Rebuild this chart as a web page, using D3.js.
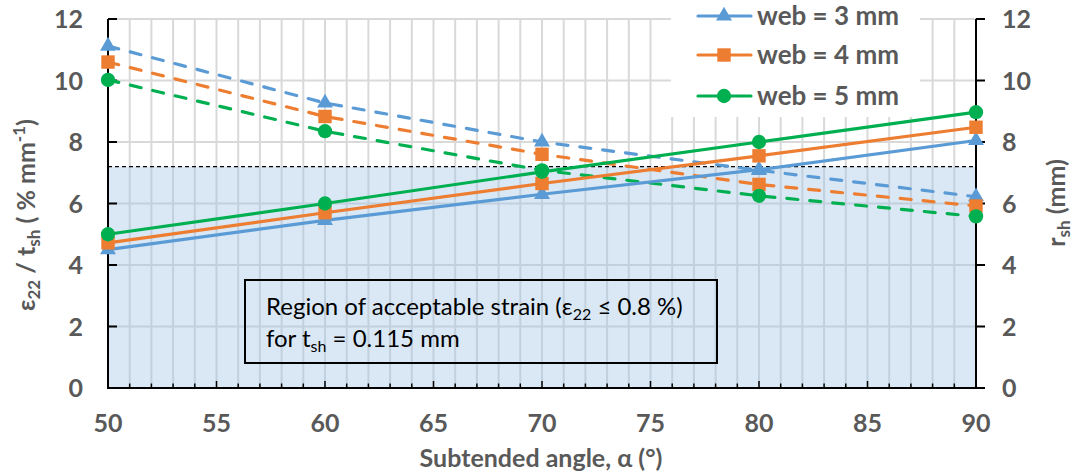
<!DOCTYPE html>
<html>
<head>
<meta charset="utf-8">
<script src="https://cdn.jsdelivr.net/npm/d3@7"></script>
<style>
  html, body { margin: 0; padding: 0; background: #fff; }
  svg { display: block; }
  text { font-family: Lato, "Open Sans", sans-serif; }
</style>
</head>
<body>
<svg id="chart" width="1073" height="473"></svg>
<script>
// ---- data ----
const angles = [50, 60, 70, 80, 90];
const seriesNames = ["web = 3 mm", "web = 4 mm", "web = 5 mm"];
const seriesColors = ["#5B9BD5", "#ED7D31", "#00B050"];
const seriesMarkers = ["triangle", "square", "circle"];
// r_sh (mm), solid lines, right axis
const rsh3 = [4.5, 5.45, 6.3, 7.1, 8.05];
const rsh4 = [4.72, 5.7, 6.65, 7.55, 8.48];
const rsh5 = [5.0, 6.0, 7.03, 8.0, 8.97];
// eps22 / t_sh (% mm^-1), dashed lines, left axis
const eps3 = [11.12, 9.27, 8.0, 7.08, 6.22];
const eps4 = [10.6, 8.83, 7.6, 6.62, 5.92];
const eps5 = [10.02, 8.35, 7.08, 6.25, 5.58];
const acceptLimit = 7.2;
const xTicks = [50, 55, 60, 65, 70, 75, 80, 85, 90];
const yTicks = [0, 2, 4, 6, 8, 10, 12];

const svg = d3.select("#chart");
const X0 = 108, X1 = 976, Y0 = 388, Y1 = 19;
const x = d3.scaleLinear().domain([50, 90]).range([X0, X1]);
const yL = d3.scaleLinear().domain([0, 12]).range([Y0, Y1]);
const yR = d3.scaleLinear().domain([0, 12]).range([Y0, Y1]);
const gray = "#595959";
const FS = 25;

// gridlines
const grid = svg.append("g");
grid.selectAll("line.v").data(d3.range(51, 90, 1)).join("line")
  .attr("x1", d => x(d)).attr("x2", d => x(d)).attr("y1", Y1).attr("y2", Y0)
  .attr("stroke", "#D9D9D9").attr("stroke-width", 2);
grid.selectAll("line.h").data(yTicks.filter(d => d > 0)).join("line")
  .attr("x1", X0).attr("x2", X1).attr("y1", d => yL(d)).attr("y2", d => yL(d))
  .attr("stroke", "#D9D9D9").attr("stroke-width", 2);

// acceptable region
svg.append("rect")
  .attr("x", X0).attr("y", yL(acceptLimit))
  .attr("width", X1 - X0).attr("height", yL(0) - yL(acceptLimit))
  .attr("fill", "#9DC3E6").attr("fill-opacity", 0.38);
svg.append("line")
  .attr("x1", X0).attr("x2", X1).attr("y1", yL(acceptLimit)).attr("y2", yL(acceptLimit))
  .attr("stroke", "#000").attr("stroke-width", 1.2).attr("stroke-dasharray", "4,3");

// annotation box
const box = svg.append("g");
box.append("rect").attr("x", 245).attr("y", 280).attr("width", 472).attr("height", 83)
  .attr("fill", "none").attr("stroke", "#000").attr("stroke-width", 2);
const t1 = box.append("text").attr("x", 266).attr("y", 315)
  .attr("font-size", 24).attr("fill", "#000");
t1.append("tspan").text("Region of acceptable strain (ε");
t1.append("tspan").attr("font-size", 16).attr("dy", 5).text("22");
t1.append("tspan").attr("dy", -5).text(" ≤ 0.8 %)");
const t2 = box.append("text").attr("x", 266).attr("y", 347)
  .attr("font-size", 24).attr("fill", "#000");
t2.append("tspan").text("for t");
t2.append("tspan").attr("font-size", 16).attr("dy", 5).text("sh");
t2.append("tspan").attr("dy", -5).text(" = 0.115 mm");

// axes lines
svg.append("line").attr("x1", X0).attr("x2", X0).attr("y1", Y1).attr("y2", Y0)
  .attr("stroke", "#000").attr("stroke-width", 2);
svg.append("line").attr("x1", X1).attr("x2", X1).attr("y1", Y1).attr("y2", Y0)
  .attr("stroke", "#000").attr("stroke-width", 2);
svg.append("line").attr("x1", X0 - 1).attr("x2", X1 + 9).attr("y1", Y0).attr("y2", Y0)
  .attr("stroke", "#000").attr("stroke-width", 2);

// left axis ticks (inside)
svg.selectAll("line.lt").data(yTicks).join("line")
  .attr("x1", X0).attr("x2", X0 + 9).attr("y1", d => yL(d)).attr("y2", d => yL(d))
  .attr("stroke", "#000").attr("stroke-width", 2);
// right axis ticks (outside)
svg.selectAll("line.rt").data(yTicks).join("line")
  .attr("x1", X1).attr("x2", X1 + 9).attr("y1", d => yR(d)).attr("y2", d => yR(d))
  .attr("stroke", "#000").attr("stroke-width", 2);
// bottom minor/major ticks (inside)
svg.selectAll("line.bt").data(d3.range(50, 91, 1)).join("line")
  .attr("x1", d => x(d)).attr("x2", d => x(d))
  .attr("y1", Y0).attr("y2", d => Y0 - (d % 5 === 0 ? 7 : 4.5))
  .attr("stroke", "#000").attr("stroke-width", 1.5);

// tick labels
svg.selectAll("text.yl").data(yTicks).join("text")
  .attr("x", 83).attr("y", d => yL(d)).attr("dy", "0.36em")
  .attr("text-anchor", "end").attr("font-size", FS).attr("font-weight", "bold")
  .attr("fill", gray).text(d => d);
svg.selectAll("text.yr").data(yTicks).join("text")
  .attr("x", 1002).attr("y", d => yR(d)).attr("dy", "0.36em")
  .attr("text-anchor", "start").attr("font-size", FS).attr("font-weight", "bold")
  .attr("fill", gray).text(d => d);
svg.selectAll("text.xl").data(xTicks).join("text")
  .attr("x", d => x(d)).attr("y", 423).attr("dy", "0.36em")
  .attr("text-anchor", "middle").attr("font-size", FS).attr("font-weight", "bold")
  .attr("fill", gray).text(d => d);

// axis titles
svg.append("text").attr("x", 541).attr("y", 467).attr("text-anchor", "middle")
  .attr("font-size", FS).attr("font-weight", "bold").attr("fill", gray)
  .text("Subtended angle, α (°)");
const lt = svg.append("text").attr("transform", "translate(35,215) rotate(-90)")
  .attr("text-anchor", "middle").attr("font-size", FS).attr("font-weight", "bold").attr("fill", gray);
lt.append("tspan").text("ε");
lt.append("tspan").attr("font-size", 17).attr("dy", 5).text("22");
lt.append("tspan").attr("dy", -5).text(" / t");
lt.append("tspan").attr("font-size", 17).attr("dy", 5).text("sh");
lt.append("tspan").attr("dy", -5).text(" ( % mm");
lt.append("tspan").attr("font-size", 17).attr("dy", -10).text("-1");
lt.append("tspan").attr("dy", 10).text(")");
const rt = svg.append("text").attr("transform", "translate(1065,203) rotate(-90)")
  .attr("text-anchor", "middle").attr("font-size", FS).attr("font-weight", "bold").attr("fill", gray);
rt.append("tspan").text("r");
rt.append("tspan").attr("font-size", 17).attr("dy", 5).text("sh");
rt.append("tspan").attr("dy", -5).text(" (mm)");

// series
const symType = { triangle: d3.symbolTriangle, square: d3.symbolSquare, circle: d3.symbolCircle };
const symSize = { triangle: 110, square: 180, circle: 160 };
const rshData = [rsh3, rsh4, rsh5];
const epsData = [eps3, eps4, eps5];

function drawSeries(vals, yScale, i, dashed) {
  const pts = angles.map((a, k) => [a, vals[k]]);
  const line = d3.line().x(d => x(d[0])).y(d => yScale(d[1]));
  svg.append("path").attr("d", line(pts)).attr("fill", "none")
    .attr("stroke", seriesColors[i]).attr("stroke-width", 3.2)
    .attr("stroke-linecap", "round")
    .attr("stroke-dasharray", dashed ? "11,12" : null);
  svg.append("g").selectAll("path").data(pts).join("path")
    .attr("transform", d => `translate(${x(d[0])},${yScale(d[1])})`)
    .attr("d", d3.symbol().type(symType[seriesMarkers[i]]).size(symSize[seriesMarkers[i]]))
    .attr("fill", seriesColors[i]);
}
for (let i = 0; i < 3; i++) drawSeries(epsData[i], yL, i, true);
for (let i = 0; i < 3; i++) drawSeries(rshData[i], yR, i, false);

// legend
const lg = svg.append("g");
lg.append("rect").attr("x", 671).attr("y", 0).attr("width", 249).attr("height", 117).attr("fill", "#fff");
const legY = [16, 55, 96];
seriesNames.forEach((name, i) => {
  lg.append("line").attr("x1", 698).attr("x2", 751).attr("y1", legY[i]).attr("y2", legY[i])
    .attr("stroke", seriesColors[i]).attr("stroke-width", 3.2).attr("stroke-linecap", "round");
  lg.append("path").attr("transform", `translate(724,${legY[i]})`)
    .attr("d", d3.symbol().type(symType[seriesMarkers[i]]).size(symSize[seriesMarkers[i]]))
    .attr("fill", seriesColors[i]);
  lg.append("text").attr("x", 757).attr("y", legY[i]).attr("dy", "0.36em")
    .attr("font-size", 26).attr("font-weight", "bold").attr("fill", gray).text(name);
});
</script>
</body>
</html>
